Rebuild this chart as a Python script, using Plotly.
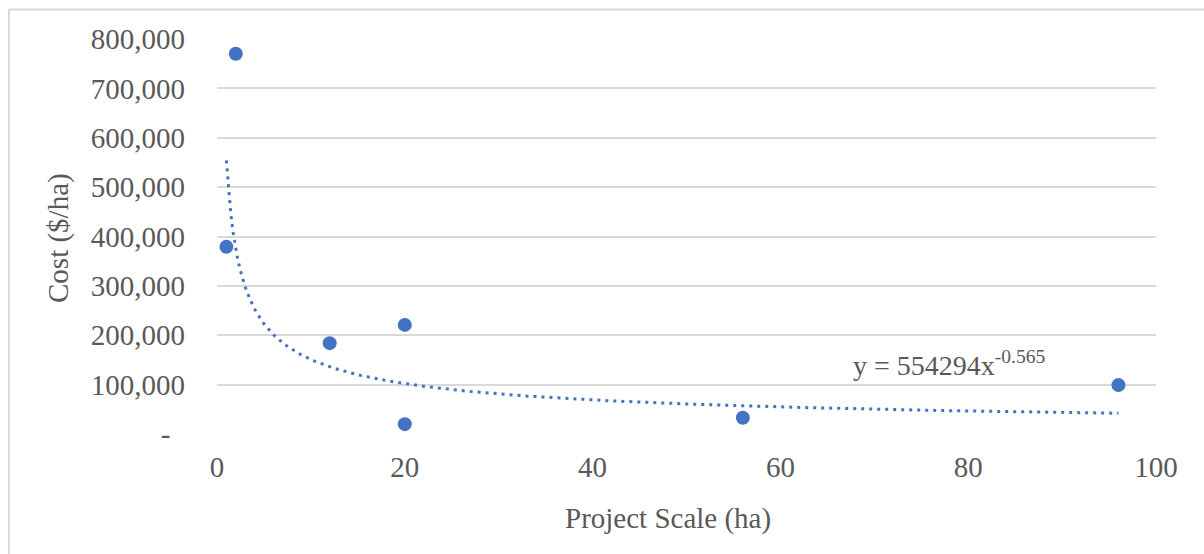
import numpy as np
import plotly.graph_objects as go

# Observed projects: scale (ha) and cost ($/ha)
project_scale = [1, 2, 12, 20, 20, 56, 96]
cost_per_ha = [379000, 770000, 184000, 221000, 20000, 33000, 99000]

# Power trendline y = a * x^b
TREND_A = 554294
TREND_B = -0.565

y_tick_vals = [0, 100000, 200000, 300000, 400000, 500000, 600000, 700000, 800000]
y_tick_text = ["-&nbsp;&nbsp;", "100,000", "200,000", "300,000", "400,000",
               "500,000", "600,000", "700,000", "800,000"]
x_tick_vals = [0, 20, 40, 60, 80, 100]

W, H = 1204, 554
ML, MR, MT, MB = 217, 48, 39, 120
PW, PH = W - ML - MR, H - MT - MB

BLUE = "#4472C4"
GRID = "#d9d9d9"
TXT = "#595959"
FONT = "Liberation Serif, Times New Roman, serif"

trend_x = np.linspace(min(project_scale), max(project_scale), 400)
trend_y = TREND_A * trend_x ** TREND_B

fig = go.Figure()
fig.add_trace(go.Scatter(
    x=trend_x, y=trend_y, mode="lines",
    line=dict(color=BLUE, width=3, dash="3px,5px"),
    hoverinfo="skip", showlegend=False,
))
fig.add_trace(go.Scatter(
    x=project_scale, y=cost_per_ha, mode="markers",
    marker=dict(color=BLUE, size=14, line=dict(width=0)),
    showlegend=False,
))


def px_x(p):
    return (p - ML) / PW


def px_y(p):
    return (MT + PH - p) / PH


fig.update_layout(
    width=W, height=H,
    margin=dict(l=ML, r=MR, t=MT, b=MB),
    paper_bgcolor="white", plot_bgcolor="white",
    font=dict(family=FONT, size=29, color=TXT),
    xaxis=dict(
        range=[0, 100], tickvals=x_tick_vals, showgrid=False,
        zeroline=False, showline=False, ticks="",
        ticklabelstandoff=13,
        tickfont=dict(family=FONT, size=29, color=TXT),
    ),
    yaxis=dict(
        range=[0, 800000], tickvals=y_tick_vals, ticktext=y_tick_text,
        showgrid=True, gridcolor=GRID, gridwidth=1.6,
        zeroline=False, showline=False, ticks="",
        ticklabelstandoff=31,
        tickfont=dict(family=FONT, size=29, color=TXT),
    ),
    annotations=[
        dict(text="Project Scale (ha)", xref="paper", yref="paper",
             x=px_x(667.5), y=px_y(518), xanchor="center", yanchor="middle",
             showarrow=False, font=dict(family=FONT, size=29, color=TXT)),
        dict(text="Cost ($/ha)", xref="paper", yref="paper",
             x=px_x(58), y=px_y(238), xanchor="center", yanchor="middle",
             textangle=-90, showarrow=False,
             font=dict(family=FONT, size=29, color=TXT)),
        dict(text=f"y = {TREND_A}x<sup>{TREND_B}</sup>", xref="x", yref="y",
             x=67.5, y=142000, xanchor="left", yanchor="middle",
             showarrow=False, font=dict(family=FONT, size=28, color=TXT)),
    ],
    shapes=[
        dict(type="line", xref="paper", yref="paper",
             x0=px_x(9), x1=px_x(W + 5), y0=px_y(9.5), y1=px_y(9.5),
             line=dict(color=GRID, width=2)),
        dict(type="line", xref="paper", yref="paper",
             x0=px_x(9), x1=px_x(9), y0=px_y(9.5), y1=px_y(H + 5),
             line=dict(color=GRID, width=2)),
    ],
)

fig.write_html("out.html")
